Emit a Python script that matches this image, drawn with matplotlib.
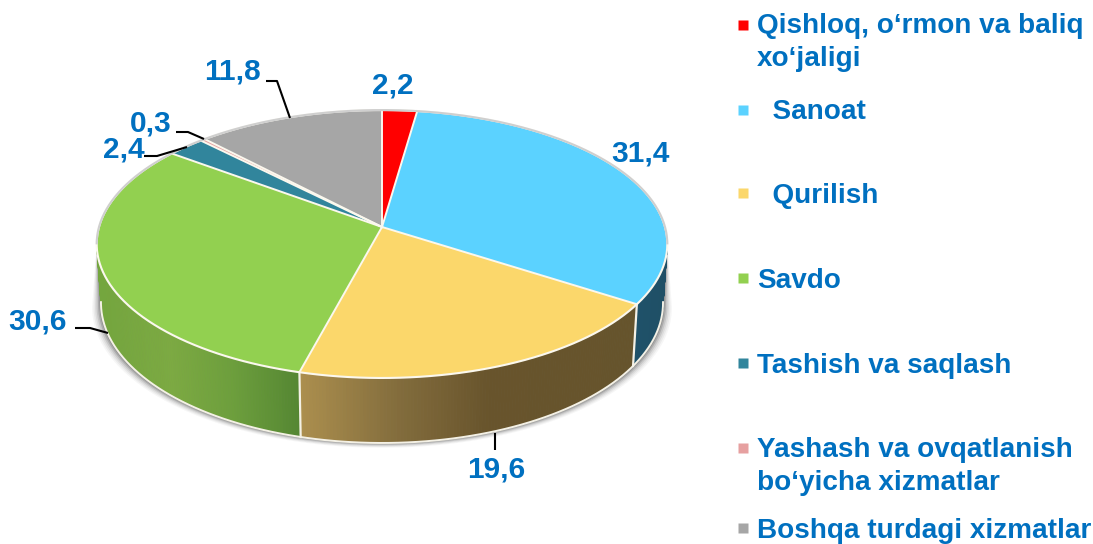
import matplotlib
matplotlib.use('Agg')
import matplotlib.pyplot as plt
from matplotlib.patches import Polygon
from matplotlib.collections import PolyCollection
import numpy as np

plt.rcParams['font.family'] = ['Liberation Sans', 'DejaVu Sans']

# Datos del grafico
categories = ['Qishloq, o‘rmon va baliq\nxo‘jaligi', '  Sanoat', '  Qurilish', 'Savdo',
              'Tashish va saqlash', 'Yashash va ovqatlanish\nbo‘yicha xizmatlar',
              'Boshqa turdagi xizmatlar']
values = [2.2, 31.4, 19.6, 30.6, 2.4, 0.3, 11.8]
value_labels = ['2,2', '31,4', '19,6', '30,6', '2,4', '0,3', '11,8']
colors = ['#FF0000', '#5BD2FF', '#FBD76B', '#92D050', '#31859C', '#E6A0A0', '#A6A6A6']

# Colores del lateral: x en pixeles y color para cada porcion visible
side_stops = {
    1: ([600, 680], [(33, 85, 110), (30, 78, 100)]),
    2: ([300, 400, 490, 640], [(172, 143, 78), (130, 108, 60), (104, 84, 44), (102, 84, 44)]),
    3: ([100, 170, 235, 300], [(116, 166, 62), (124, 170, 66), (108, 158, 60), (84, 134, 50)]),
}

label_pos = [(393, 85), (640, 154), (496, 470), (38, 322), (124, 149), (151, 124), (232, 71)]
leaders = [
    [(266, 81), (277, 81), (290, 118)],
    [(176, 132), (188, 132), (204, 139)],
    [(144, 156), (157, 156), (187, 147)],
    [(75, 328), (90, 328), (108, 333)],
    [(495, 433), (495, 450)],
]
legend_y = [33, 119, 203, 288, 373, 457, 537.5]
marker_y = [24.5, 109.5, 193, 278, 363, 447.5, 528]

# Parametros de la perspectiva
cx, cy = 382, 227
R, S, K = 283, 131.8, 0.127


def project(theta):
    x = np.sin(theta)
    yf = -np.cos(theta)
    w = 1 - K * yf
    return cx + R * x / w, cy + S * yf / w


def project_low(theta):
    # borde inferior del lateral
    px, py = project(theta)
    yf = -np.cos(theta)
    return cx + (px - cx) * 0.985, py + 58 + 7 * yf


fig = plt.figure(figsize=(10.93, 5.44), dpi=100)
ax = fig.add_axes([0, 0, 1, 1])
ax.set_xlim(0, 1093)
ax.set_ylim(544, 0)
ax.axis('off')

edges = np.cumsum([0] + values) / sum(values) * 2 * np.pi
front_a, front_b = np.radians(97), np.radians(263)

# Sombra bajo el lateral
th = np.linspace(front_a, front_b, 200)
lx, ly = project_low(th)
tx, ty = project(th)
for grow, alpha in zip([6, 5, 4, 3, 2, 1], [0.04, 0.06, 0.08, 0.12, 0.18, 0.25]):
    pts = np.r_[np.c_[tx, ty], np.c_[cx + (lx - cx) * (1 + 1.5 * grow / 285), ly + grow * 0.8][::-1]]
    ax.add_patch(Polygon(pts, closed=True, fc='#303030', ec='none', alpha=alpha, zorder=1))

# Lateral con degradado
for i, (xs, cols) in side_stops.items():
    a = max(edges[i], front_a)
    b = min(edges[i + 1], front_b)
    th = np.linspace(a, b, 120)
    tx, ty = project(th)
    lx, ly = project_low(th)
    quads = []
    face = []
    for j in range(len(th) - 1):
        quads.append([(tx[j], ty[j]), (tx[j + 1], ty[j + 1]), (lx[j + 1], ly[j + 1]), (lx[j], ly[j])])
        mid = (tx[j] + tx[j + 1]) / 2
        face.append([np.interp(mid, xs, [c[k] for c in cols]) / 255 for k in range(3)])
    ax.add_collection(PolyCollection(quads, facecolors=face, edgecolors=face, linewidths=0.5, zorder=2))

# Borde blanco inferior y divisiones del lateral
th = np.linspace(front_a, front_b, 200)
lx, ly = project_low(th)
ax.plot(lx, ly, color='#F4F1E6', lw=1.4, zorder=3)
for e in edges[2:4]:
    px, py = project(e)
    qx, qy = project_low(e)
    ax.plot([px, qx], [py, qy], color='#F4F1E6', lw=1.6, zorder=3)

# Cara superior
for i in range(len(values)):
    th = np.linspace(edges[i], edges[i + 1], max(int(values[i] * 8), 4))
    px, py = project(th)
    pts = np.r_[[(cx, cy)], np.c_[px, py]]
    ax.add_patch(Polygon(pts, closed=True, fc=colors[i], ec='none', zorder=4))
for i in range(len(values)):
    px, py = project(edges[i])
    ax.plot([cx, px], [cy, py], color='#FBF8EE', lw=1.4, zorder=5)

# Contorno: gris claro atras, blanco delante
th = np.linspace(0, 2 * np.pi, 400)
px, py = project(th)
ax.plot(px, py, color='#FBF8EE', lw=1.5, zorder=5)
th = np.r_[np.linspace(front_b, 2 * np.pi, 150), np.linspace(0, front_a, 100)]
px, py = project(th)
ax.plot(px, py, color='#CFCFCF', lw=1.5, zorder=5)

# Lineas guia
for pts in leaders:
    arr = np.array(pts)
    ax.plot(arr[:, 0], arr[:, 1], color='black', lw=1.5, zorder=6, solid_capstyle='butt')

# Etiquetas de valores
for lab, (x, y) in zip(value_labels, label_pos):
    ax.text(x, y, lab, color='#0070C0', fontsize=21.5, fontweight='bold', ha='center', va='center', zorder=7)

# Leyenda
for name, col, ty_, my in zip(categories, colors, legend_y, marker_y):
    ax.plot([743], [my], marker='s', ms=6.8, mec='none', color=col, ls='none', clip_on=False)
    parts = name.split('\n')
    for k, part in enumerate(parts):
        ax.text(757, ty_ + k * 33.5, part, color='#0070C0', fontsize=20.1, fontweight='bold',
                ha='left', va='baseline')

fig.savefig('out.png', dpi=100)
